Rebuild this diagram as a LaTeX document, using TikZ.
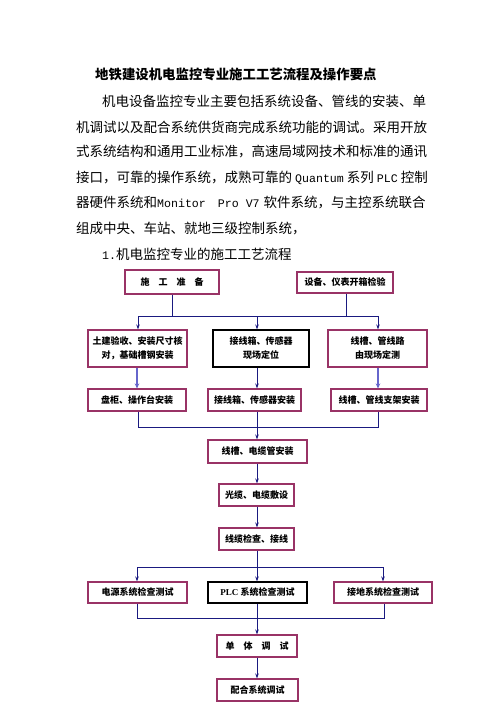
\documentclass[tikz,border=0pt]{standalone}
\usepackage{fontspec}
\setmainfont{Noto Sans CJK SC}
\newfontfamily\cjk{Noto Sans CJK SC}
\newfontfamily\mono{Liberation Mono}
\newfontfamily\tms{Liberation Serif}
\usetikzlibrary{arrows.meta}
\definecolor{boxc}{HTML}{993366}
\definecolor{linec}{HTML}{1A1A80}
\definecolor{arrc}{HTML}{6666CC}
\newcommand{\mtxt}[1]{{\mono\fontsize{11.6}{14}\selectfont #1}}
\begin{document}
\begin{tikzpicture}[x=1pt,y=-1pt,
  box/.style={draw=boxc,line width=1.1pt,inner sep=0pt,align=center,font=\fontsize{9}{14}\selectfont\bfseries},
  blackbox/.style={box,draw=black},
  para/.style={anchor=west,inner sep=0pt,font=\fontsize{13.5}{14}\selectfont},
  conn/.style={draw=linec,line width=0.9pt},
  arr/.style={conn,-{Stealth[length=5pt,width=3.5pt]}},
  arrb/.style={draw=arrc,line width=1.8pt,-{Stealth[length=5pt,width=4.5pt]}}]
\useasboundingbox (0,0) rectangle (496,702);
\fill[white] (0,0) rectangle (496,702);
% text
\node[para,font=\fontsize{13.4}{14}\selectfont\bfseries] (title) at (95,74) {地铁建设机电监控专业施工工艺流程及操作要点};
\node[para] (p1) at (102,101) {机电设备监控专业主要包括系统设备、管线的安装、单};
\node[para] (p2) at (76,127) {机调试以及配合系统供货商完成系统功能的调试。采用开放};
\node[para] (p3) at (76,152) {式系统结构和通用工业标准，高速局域网技术和标准的通讯};
\node[para] (p4) at (76,178) {接口，可靠的操作系统，成熟可靠的\hspace{3pt}\mtxt{Quantum}\hspace{3pt}系列\hspace{3pt}\mtxt{PLC}\hspace{3pt}控制};
\node[para] (p5) at (76,203) {器硬件系统和\mtxt{Monitor\hspace{12pt}Pro V7}\hspace{4pt}软件系统，与主控系统联合};
\node[para] (p6) at (76,229) {组成中央、车站、就地三级控制系统，};
\node[para] (p7) at (102,254) {\mtxt{1.}机电监控专业的施工工艺流程};
% boxes
\node[box,minimum width=94,minimum height=24] (prep) at (172,282) {施\quad 工\quad 准\quad 备};
\node[box,minimum width=96,minimum height=21] (chk) at (345,282.5) {设备、仪表开箱检验};
\node[box,minimum width=99,minimum height=37] (tj) at (137.5,348.5) {土建验收、安装尺寸核\\对，基础槽钢安装};
\node[blackbox,minimum width=96,minimum height=37] (jx) at (261,348.5) {接线箱、传感器\\现场定位};
\node[box,minimum width=99,minimum height=37] (xc) at (377.5,348.5) {线槽、管线路\\由现场定测};
\node[box,minimum width=98,minimum height=22] (pg) at (137,400) {盘柜、操作台安装};
\node[box,minimum width=93,minimum height=22] (jxa) at (254.5,400) {接线箱、传感器安装};
\node[box,minimum width=96,minimum height=22] (xca) at (379,400) {线槽、管线支架安装};
\node[box,minimum width=99,minimum height=23] (xd) at (257.5,451.5) {线槽、电缆管安装};
\node[box,minimum width=75,minimum height=22] (gl) at (256.5,495) {光缆、电缆敷设};
\node[box,minimum width=75,minimum height=22] (xl) at (256.5,539) {线缆检查、接线};
\node[box,minimum width=99,minimum height=21] (dy) at (137.5,592.5) {电源系统检查测试};
\node[blackbox,minimum width=99,minimum height=21] (plc) at (257.5,592.5) {{\tms\bfseries PLC} 系统检查测试};
\node[box,minimum width=98,minimum height=21] (jd) at (383,592.5) {接地系统检查测试};
\node[box,minimum width=80,minimum height=22] (dt) at (257,646) {单\quad 体\quad 调\quad 试};
\node[box,minimum width=81,minimum height=22] (ph) at (257.5,690) {配合系统调试};
% bus coordinates
\coordinate (b1l) at (138,316);
\coordinate (b1r) at (378,316);
\coordinate (b1m) at (257,316);
\coordinate (b2l) at (138,427);
\coordinate (b2r) at (378,427);
\coordinate (b2m) at (257,427);
\coordinate (b3l) at (137,567);
\coordinate (b3r) at (383,567);
\coordinate (b3m) at (257,567);
\coordinate (b4l) at (137,618);
\coordinate (b4r) at (384,618);
\coordinate (b4m) at (257,618);
% bus 1
\draw[conn] (prep.south) -- (prep.south |- b1l);
\draw[conn] ([xshift=1pt]chk.south) -- ([xshift=1pt]chk.south |- b1l);
\draw[conn] (b1l) -- (b1r);
\draw[arr] (b1l) -- (b1l |- tj.north);
\draw[arr] (b1m) -- (b1m |- jx.north);
\draw[arr] (b1r) -- (b1r |- xc.north);
% row 2 -> row 3
\draw[arrb] (tj.south -| pg) -- (pg.north);
\draw[arr] (b1m |- jx.south) -- (b1m |- jxa.north);
\draw[arrb] (b1r |- xc.south) -- (b1r |- xca.north);
% bus 2
\draw[conn] (b2l |- pg.south) -- (b2l) -- (b2r) -- (b2r |- xca.south);
\draw[conn] (b2m |- jxa.south) -- (b2m);
\draw[arr] (b2m) -- (b2m |- xd.north);
% chain
\draw[arr] (b2m |- xd.south) -- (b2m |- gl.north);
\draw[arr] (b2m |- gl.south) -- (b2m |- xl.north);
% bus 3
\draw[conn] (b3m |- xl.south) -- (b3m);
\draw[conn] (b3l) -- (b3r);
\draw[arr] (b3l) -- (b3l |- dy.north);
\draw[arr] (b3m) -- (b3m |- plc.north);
\draw[arr] (b3r) -- (b3r |- jd.north);
% bus 4
\draw[conn] (b4l |- dy.south) -- (b4l) -- (b4r) -- (b4r |- jd.south);
\draw[conn] (b4m |- plc.south) -- (b4m);
\draw[arr] (b4m) -- (b4m |- dt.north);
\draw[arr] (b4m |- dt.south) -- (b4m |- ph.north);
\end{tikzpicture}
\end{document}
